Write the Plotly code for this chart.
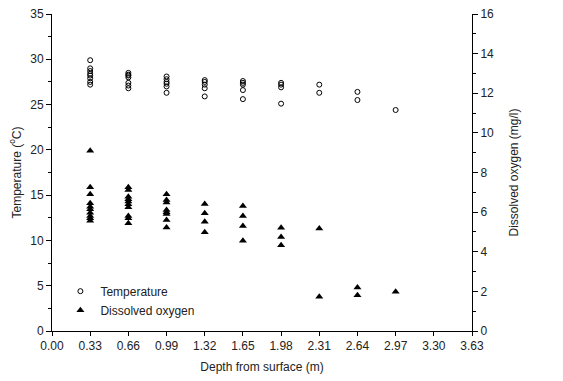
import plotly.graph_objects as go

# Temperature (°C) by depth (m)
temp_depth = [0.33]*8 + [0.66]*7 + [0.99]*6 + [1.32]*5 + [1.65]*5 + [1.98]*4 + [2.31]*2 + [2.64]*2 + [2.97]
temp_values = [29.9, 29.0, 28.7, 28.4, 28.2, 27.9, 27.5, 27.2,
               28.5, 28.3, 28.2, 28.0, 27.4, 27.1, 26.8,
               28.1, 27.8, 27.5, 27.3, 27.0, 26.3,
               27.7, 27.5, 27.2, 26.8, 25.9,
               27.6, 27.4, 27.2, 26.6, 25.6,
               27.4, 27.2, 26.9, 25.1,
               27.2, 26.3,
               26.4, 25.5,
               24.4]

# Dissolved oxygen (mg/l) by depth (m)
do_depth = [0.33]*10 + [0.66]*10 + [0.99]*8 + [1.32]*4 + [1.65]*4 + [1.98]*3 + [2.31]*2 + [2.64]*2 + [2.97]
do_values = [9.1, 7.25, 6.9, 6.45, 6.27, 6.14, 5.97, 5.8, 5.69, 5.57,
             7.25, 7.12, 6.78, 6.65, 6.53, 6.4, 6.24, 5.8, 5.69, 5.44,
             6.9, 6.61, 6.48, 6.11, 5.99, 5.9, 5.6, 5.23,
             6.41, 5.94, 5.52, 4.98,
             6.31, 5.81, 5.3, 4.55,
             5.21, 4.75, 4.33,
             5.17, 1.73,
             2.2, 1.8,
             1.98]

x_ticks = [0.00, 0.33, 0.66, 0.99, 1.32, 1.65, 1.98, 2.31, 2.64, 2.97, 3.30, 3.63]

FONT = "Liberation Sans, Arial, sans-serif"

fig = go.Figure()
fig.add_trace(go.Scatter(
    x=temp_depth, y=temp_values, mode="markers", name="Temperature",
    marker=dict(symbol="circle-open", size=5, color="black", line=dict(width=1, color="black")),
))
fig.add_trace(go.Scatter(
    x=do_depth, y=do_values, mode="markers", name="Dissolved oxygen", yaxis="y2",
    marker=dict(symbol="triangle-up", size=7, color="black"),
))

fig.update_layout(
    width=563, height=381,
    margin=dict(l=52, r=91, t=14, b=50),
    paper_bgcolor="white", plot_bgcolor="white",
    font=dict(family=FONT, size=12, color="#222"),
    showlegend=True,
    legend=dict(x=0.02, y=0.02, xanchor="left", yanchor="bottom",
                bgcolor="rgba(0,0,0,0)", font=dict(size=12), tracegroupgap=0,
                itemsizing="trace", itemwidth=30),
    xaxis=dict(
        range=[0, 3.63], tickvals=x_ticks, ticktext=[f"{v:.2f}" for v in x_ticks],
        showgrid=False, zeroline=False, showline=True, linecolor="black", linewidth=1,
        ticks="outside", ticklen=4, tickcolor="black", automargin=False,
        title=dict(text="Depth from surface (m)", standoff=10, font=dict(size=12)),
    ),
    yaxis=dict(
        range=[0, 35], dtick=5, showgrid=False, zeroline=False,
        showline=True, linecolor="black", linewidth=1,
        ticks="outside", ticklen=5, tickcolor="black", automargin=False,
        minor=dict(ticks="outside", dtick=2.5, ticklen=3, tickcolor="black"),
        title=dict(text="Temperature (<sup>o</sup>C)", standoff=6, font=dict(size=12)),
    ),
    yaxis2=dict(
        range=[0, 16], dtick=2, overlaying="y", side="right", anchor="x",
        showgrid=False, zeroline=False,
        showline=True, linecolor="black", linewidth=1,
        ticks="outside", ticklen=5, tickcolor="black", automargin=False,
        minor=dict(ticks="outside", dtick=1, ticklen=3, tickcolor="black"),
        title=dict(text="Dissolved oxygen (mg/l)", standoff=16, font=dict(size=12)),
    ),
)

fig.write_html("out.html", config={"displayModeBar": False},
               post_script="document.body.style.margin='0';")
